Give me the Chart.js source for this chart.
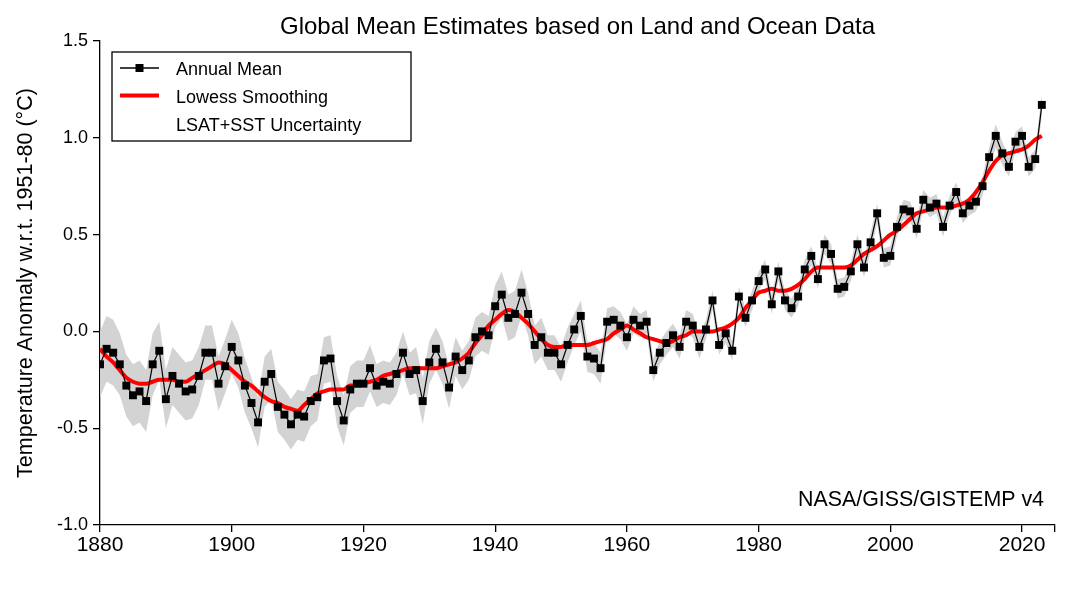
<!DOCTYPE html>
<html>
<head>
<meta charset="utf-8">
<script src="https://cdn.jsdelivr.net/npm/chart.js@4.4.1/dist/chart.umd.min.js"></script>
<style>
  html, body { margin: 0; padding: 0; background: #fff; }
  #wrap { width: 1080px; height: 590px; }
</style>
</head>
<body>
<div id="wrap"><canvas id="gistempChart" width="1080" height="590"></canvas></div>
<script>
// GISTEMP v4 global annual mean anomalies, 1880-2023
const firstYear = 1880;

const annualMean = [
  -0.17, -0.09, -0.11, -0.17, -0.28, -0.33, -0.31, -0.36, -0.17, -0.10,
  -0.35, -0.23, -0.27, -0.31, -0.30, -0.23, -0.11, -0.11, -0.27, -0.18,
  -0.08, -0.15, -0.28, -0.37, -0.47, -0.26, -0.22, -0.39, -0.43, -0.48,
  -0.43, -0.44, -0.36, -0.34, -0.15, -0.14, -0.36, -0.46, -0.30, -0.27,
  -0.27, -0.19, -0.28, -0.26, -0.27, -0.22, -0.11, -0.22, -0.20, -0.36,
  -0.16, -0.09, -0.16, -0.29, -0.13, -0.20, -0.15, -0.03, -0.00, -0.02,
   0.13,  0.19,  0.07,  0.09,  0.20,  0.09, -0.07, -0.03, -0.11, -0.11,
  -0.17, -0.07,  0.01,  0.08, -0.13, -0.14, -0.19,  0.05,  0.06,  0.03,
  -0.03,  0.06,  0.03,  0.05, -0.20, -0.11, -0.06, -0.02, -0.08,  0.05,
   0.03, -0.08,  0.01,  0.16, -0.07, -0.01, -0.10,  0.18,  0.07,  0.16,
   0.26,  0.32,  0.14,  0.31,  0.16,  0.12,  0.18,  0.32,  0.39,  0.27,
   0.45,  0.40,  0.22,  0.23,  0.31,  0.45,  0.33,  0.46,  0.61,  0.38,
   0.39,  0.54,  0.63,  0.62,  0.53,  0.68,  0.64,  0.66,  0.54,  0.65,
   0.72,  0.61,  0.65,  0.67,  0.75,  0.90,  1.01,  0.92,  0.85,  0.98,
   1.01,  0.85,  0.89,  1.17
];

const lowessSmooth = [
  -0.09, -0.13, -0.16, -0.20, -0.24, -0.26, -0.27, -0.27, -0.26, -0.25,
  -0.25, -0.25, -0.26, -0.26, -0.24, -0.22, -0.20, -0.18, -0.16, -0.17,
  -0.20, -0.23, -0.26, -0.28, -0.31, -0.34, -0.36, -0.37, -0.39, -0.40,
  -0.41, -0.38, -0.35, -0.32, -0.31, -0.30, -0.30, -0.30, -0.28, -0.28,
  -0.27, -0.26, -0.25, -0.23, -0.22, -0.21, -0.20, -0.19, -0.19, -0.19,
  -0.19, -0.19, -0.18, -0.17, -0.16, -0.14, -0.11, -0.06, -0.02,  0.03,
   0.06,  0.09,  0.11,  0.10,  0.07,  0.04,  0.00, -0.04, -0.07, -0.08,
  -0.08, -0.07, -0.07, -0.07, -0.07, -0.06, -0.05, -0.04, -0.01,  0.01,
   0.03,  0.01, -0.01, -0.03, -0.04, -0.05, -0.06, -0.05, -0.03, -0.02,
  -0.00,  0.00,  0.00,  0.00,  0.01,  0.02,  0.04,  0.07,  0.12,  0.16,
   0.20,  0.21,  0.22,  0.21,  0.21,  0.22,  0.24,  0.27,  0.31,  0.33,
   0.33,  0.33,  0.33,  0.33,  0.34,  0.37,  0.40,  0.42,  0.44,  0.47,
   0.50,  0.52,  0.55,  0.58,  0.61,  0.62,  0.63,  0.64,  0.64,  0.64,
   0.65,  0.66,  0.68,  0.72,  0.77,  0.83,  0.88,  0.91,  0.92,  0.93,
   0.94,  0.96,  0.99,  1.01
];

// half-width of the LSAT+SST uncertainty band
const uncertainty = [
  0.17, 0.17, 0.17, 0.16, 0.16, 0.16, 0.16, 0.16, 0.16, 0.15,
  0.15, 0.15, 0.15, 0.15, 0.15, 0.15, 0.14, 0.14, 0.14, 0.14,
  0.14, 0.14, 0.14, 0.13, 0.13, 0.13, 0.13, 0.13, 0.13, 0.13,
  0.13, 0.13, 0.13, 0.12, 0.12, 0.12, 0.13, 0.13, 0.12, 0.12,
  0.12, 0.12, 0.11, 0.11, 0.11, 0.11, 0.11, 0.11, 0.12, 0.12,
  0.11, 0.11, 0.11, 0.11, 0.10, 0.10, 0.10, 0.10, 0.10, 0.10,
  0.11, 0.12, 0.12, 0.12, 0.12, 0.11, 0.10, 0.10, 0.09, 0.09,
  0.09, 0.09, 0.08, 0.08, 0.08, 0.08, 0.08, 0.07, 0.07, 0.07,
  0.07, 0.07, 0.06, 0.06, 0.06, 0.06, 0.06, 0.06, 0.06, 0.06,
  0.06, 0.06, 0.05, 0.05, 0.05, 0.05, 0.05, 0.05, 0.05, 0.05,
  0.05, 0.05, 0.05, 0.05, 0.05, 0.05, 0.05, 0.05, 0.05, 0.05,
  0.05, 0.05, 0.05, 0.05, 0.05, 0.05, 0.05, 0.05, 0.05, 0.05,
  0.05, 0.05, 0.05, 0.05, 0.05, 0.05, 0.05, 0.05, 0.05, 0.05,
  0.05, 0.05, 0.05, 0.05, 0.05, 0.05, 0.06, 0.06, 0.05, 0.05,
  0.05, 0.05, 0.05, 0.06
];

const xTickValues = [1880, 1900, 1920, 1940, 1960, 1980, 2000, 2020];
const yTickValues = [-1.0, -0.5, 0.0, 0.5, 1.0, 1.5];
const xMax = 2025;

const FONT = '"Liberation Sans", Arial, Helvetica, sans-serif';
Chart.defaults.font.family = FONT;
Chart.defaults.color = '#000';

const pts = arr => arr.map((v, i) => ({ x: firstYear + i, y: v }));
const bandLow = annualMean.map((v, i) => +(v - uncertainty[i]).toFixed(3));
const bandHigh = annualMean.map((v, i) => +(v + uncertainty[i]).toFixed(3));

// title, boxed legend and credit line
const decorations = {
  id: 'decorations',
  afterDraw(chart) {
    const { ctx, chartArea } = chart;
    ctx.save();
    ctx.fillStyle = '#000';
    ctx.textBaseline = 'alphabetic';

    ctx.font = '24px ' + FONT;
    ctx.textAlign = 'center';
    ctx.fillText('Global Mean Estimates based on Land and Ocean Data',
      (chartArea.left + chartArea.right) / 2, 34);

    // legend
    ctx.strokeStyle = '#000';
    ctx.lineWidth = 1.3;
    ctx.strokeRect(112, 52, 299, 89);

    ctx.beginPath();
    ctx.moveTo(120, 68); ctx.lineTo(159, 68);
    ctx.stroke();
    ctx.fillRect(135.5, 64, 8, 8);

    ctx.strokeStyle = '#ff0000';
    ctx.lineWidth = 4;
    ctx.beginPath();
    ctx.moveTo(120, 95.5); ctx.lineTo(159, 95.5);
    ctx.stroke();

    ctx.font = '18px ' + FONT;
    ctx.textAlign = 'left';
    ctx.fillText('Annual Mean', 176, 75);
    ctx.fillText('Lowess Smoothing', 176, 103);
    ctx.fillText('LSAT+SST Uncertainty', 176, 131);

    ctx.font = '21.4px ' + FONT;
    ctx.textAlign = 'right';
    ctx.fillText('NASA/GISS/GISTEMP v4', 1044, 506);
    ctx.restore();
  }
};

new Chart(document.getElementById('gistempChart'), {
  type: 'line',
  data: {
    datasets: [
      {
        label: 'Uncertainty low',
        data: pts(bandLow),
        borderWidth: 0,
        pointRadius: 0,
        fill: false,
        order: 3
      },
      {
        label: 'LSAT+SST Uncertainty',
        data: pts(bandHigh),
        borderWidth: 0,
        pointRadius: 0,
        backgroundColor: '#d3d3d3',
        fill: '-1',
        order: 2
      },
      {
        label: 'Lowess Smoothing',
        data: pts(lowessSmooth),
        borderColor: '#ff0000',
        borderWidth: 4,
        pointRadius: 0,
        cubicInterpolationMode: 'monotone',
        fill: false,
        order: 1
      },
      {
        label: 'Annual Mean',
        data: pts(annualMean),
        borderColor: '#000',
        borderWidth: 1.2,
        pointStyle: 'rect',
        pointRadius: 5.6,
        pointBorderWidth: 0,
        pointBackgroundColor: '#000',
        fill: false,
        order: 0
      }
    ]
  },
  options: {
    responsive: false,
    devicePixelRatio: 1,
    animation: false,
    events: [],
    layout: { padding: { top: 41, right: 25, left: 0, bottom: 0 } },
    plugins: {
      legend: { display: false },
      title: { display: false },
      tooltip: { enabled: false }
    },
    scales: {
      x: {
        type: 'linear',
        min: firstYear,
        max: xMax,
        afterBuildTicks: s => { s.ticks = xTickValues.concat([xMax]).map(v => ({ value: v })); },
        afterFit: s => { s.height = 65; },
        grid: { drawOnChartArea: false, drawTicks: true, tickLength: 7, color: '#000', lineWidth: 1.3 },
        border: { display: true, color: '#000', width: 1.3 },
        ticks: {
          autoSkip: false,
          maxRotation: 0,
          padding: 1,
          font: { size: 21 },
          callback: v => (v === xMax ? '' : String(v))
        }
      },
      y: {
        type: 'linear',
        min: -1.0,
        max: 1.5,
        afterBuildTicks: s => { s.ticks = yTickValues.map(v => ({ value: v })); },
        afterFit: s => { s.width = 100; },
        grid: { drawOnChartArea: false, drawTicks: true, tickLength: 7, color: '#000', lineWidth: 1.3 },
        border: { display: true, color: '#000', width: 1.3 },
        ticks: {
          padding: 5,
          font: { size: 18 },
          callback: v => v.toFixed(1)
        },
        title: {
          display: true,
          text: 'Temperature Anomaly w.r.t. 1951-80 (°C)',
          font: { size: 21.5 },
          padding: { top: 13, bottom: 0 }
        }
      }
    }
  },
  plugins: [decorations]
});
</script>
</body>
</html>
